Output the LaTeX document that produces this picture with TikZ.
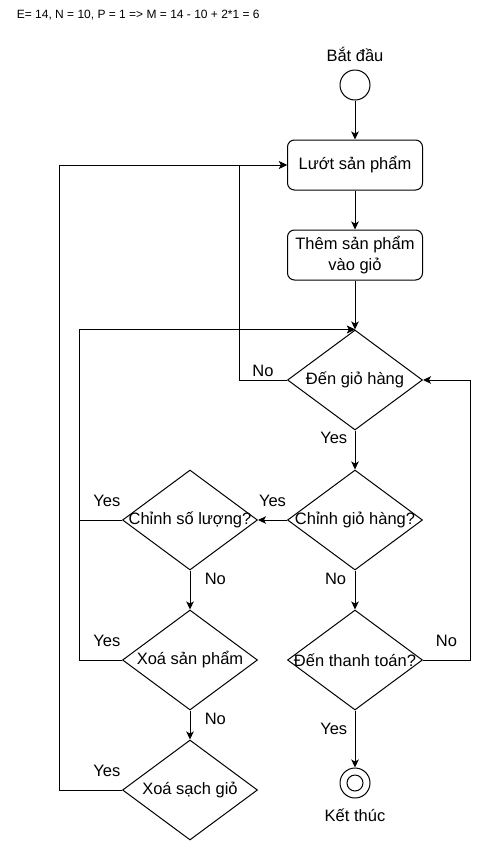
\documentclass[tikz,border=0pt]{standalone}
\usepackage{fontspec}
\setmainfont{Liberation Sans}
\usetikzlibrary{arrows.meta,shapes.geometric}

\begin{document}
\begin{tikzpicture}[
		x=1pt, y=-1pt,
		line width=1pt,
		>={Stealth[length=8pt, width=7.5pt, inset=2pt]},
		every node/.style={font=\fontsize{16.5}{20.5}\selectfont},
		every label/.append style={rectangle},
		terminal/.style={circle, draw, minimum size=30pt, inner sep=0pt},
		action/.style={rectangle, draw, rounded corners=7pt, minimum width=135pt, minimum height=50pt, align=center, inner sep=2pt},
		decision/.style={diamond, draw, minimum width=135pt, minimum height=100pt, inner sep=0pt},
		arrow/.style={->}
	]
  \useasboundingbox (0,0) rectangle (479,841);
  \node (formula) [anchor=west, font=\fontsize{12}{14}\selectfont] at (13,15) {E= 14, N = 10, P = 1 => M = 14 - 10 + 2*1 = 6};
  \node (start) [terminal, label={[label distance=4pt]above:Bắt đầu}] at (355,85) {};
  \node (luot) [action] at (355,165) {Lướt sản phẩm};
  \node (them) [action] at (355,255) {Thêm sản phẩm\\vào giỏ};
  \node (den_gio) [decision, label=center:Đến giỏ hàng] at (355,380) {};
  \node (chinh_gio) [decision, label=center:Chỉnh giỏ hàng?] at (355,520) {};
  \node (thanh_toan) [decision, label=center:Đến thanh toán?] at (355,660) {};
  \node (ket_thuc) [terminal, label={[label distance=6pt]below:Kết thúc}, label={[circle, draw, minimum size=16pt, inner sep=0pt]center:}] at (355,783) {};
  \node (chinh_sl) [decision, label=center:Chỉnh số lượng?] at (190,520) {};
  \node (xoa_sp) [decision, label=center:Xoá sản phẩm] at (190,660) {};
  \node (xoa_gio) [decision, label=center:Xoá sạch giỏ] at (190,790) {};
  \draw (start) edge [arrow] (luot);
  \draw (luot) edge [arrow] (them);
  \draw (them) edge [arrow] (den_gio);
  \draw (den_gio) edge [arrow] node [left=4pt, pos=0.2] {Yes} (chinh_gio);
  \draw (chinh_gio) edge [arrow] node [above=10pt, midway] {Yes} (chinh_sl);
  \draw (chinh_gio) edge [arrow] node [left=5pt, pos=0.22] {No} (thanh_toan);
  \draw (thanh_toan) edge [arrow] node [left=4pt, pos=0.33] {Yes} (ket_thuc);
  \draw (chinh_sl) edge [arrow] node [right=11pt, pos=0.22] {No} (xoa_sp);
  \draw (xoa_sp) edge [arrow] node [right=11pt, pos=0.3] {No} (xoa_gio);
  \draw [arrow] (den_gio.west) -- node [above, midway] {No} ++(-48,0) |- (luot.west);
  \draw [arrow] (thanh_toan.east) -- node [above=10pt, midway] {No} ++(47,0) |- (den_gio.east);
  \draw [arrow] (chinh_sl.west) -- node [above=10pt, pos=0.35] {Yes} ++(-43,0) |- (den_gio.north);
  \draw [arrow] (xoa_sp.west) -- node [above=10pt, pos=0.35] {Yes} ++(-43,0) |- (den_gio.north);
  \draw [arrow] (xoa_gio.west) -- node [above=10pt, pos=0.24] {Yes} ++(-63,0) |- (luot.west);
\end{tikzpicture}
\end{document}
